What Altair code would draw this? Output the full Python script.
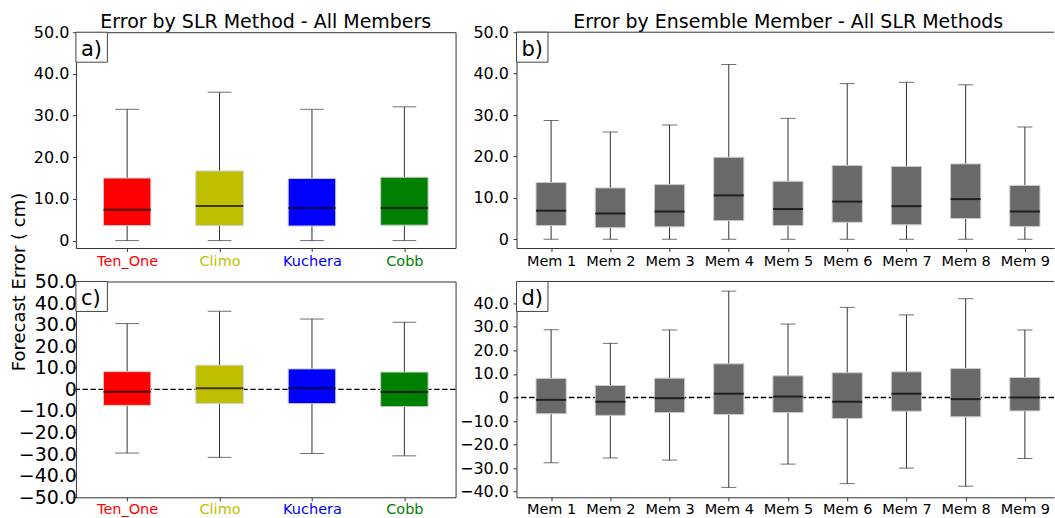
import json
import altair as alt
import pandas as pd

FONT = "DejaVu Sans"

# ---------------- data ----------------
methods = ["Ten_One", "Climo", "Kuchera", "Cobb"]
method_colors = ["#ff0000", "#bfbf00", "#0000ff", "#008000"]
members = ["Mem 1", "Mem 2", "Mem 3", "Mem 4", "Mem 5", "Mem 6", "Mem 7", "Mem 8", "Mem 9"]
member_color = "#696969"

# a) absolute error by SLR method
a_lo = [0.0, 0.0, 0.0, 0.0]
a_q1 = [3.6, 3.6, 3.5, 3.7]
a_med = [7.4, 8.3, 7.8, 7.8]
a_q3 = [15.0, 16.7, 14.9, 15.2]
a_hi = [31.5, 35.6, 31.5, 32.1]

# b) absolute error by ensemble member
b_lo = [0.0, 0.0, 0.0, 0.0, 0.0, 0.0, 0.0, 0.0, 0.0]
b_q1 = [3.3, 2.8, 3.0, 4.5, 3.3, 4.1, 3.5, 5.0, 3.1]
b_med = [6.9, 6.2, 6.7, 10.6, 7.3, 9.1, 8.0, 9.7, 6.7]
b_q3 = [13.7, 12.4, 13.2, 19.8, 14.0, 17.8, 17.6, 18.2, 13.0]
b_hi = [28.7, 25.9, 27.6, 42.2, 29.2, 37.6, 37.9, 37.3, 27.1]

# c) signed error by SLR method
c_lo = [-29.5, -31.5, -29.7, -30.8]
c_q1 = [-7.4, -6.5, -6.6, -8.0]
c_med = [-1.1, 0.5, 0.5, -1.2]
c_q3 = [8.2, 11.2, 9.5, 8.0]
c_hi = [30.5, 36.2, 32.6, 31.1]

# d) signed error by ensemble member
d_lo = [-27.7, -25.7, -26.6, -38.2, -28.3, -36.6, -30.0, -37.7, -25.9]
d_q1 = [-6.9, -7.6, -6.4, -7.2, -6.4, -8.9, -5.8, -8.2, -5.7]
d_med = [-1.0, -1.8, -0.3, 1.6, 0.4, -1.8, 1.6, -0.7, 0.0]
d_q3 = [8.1, 5.1, 8.2, 14.3, 9.2, 10.5, 10.9, 12.3, 8.5]
d_hi = [28.8, 23.0, 28.7, 45.2, 31.2, 38.3, 35.1, 42.0, 28.7]

title_a = "Error by SLR Method - All Members"
title_b = "Error by Ensemble Member - All SLR Methods"
panel_labels = ["a)", "b)", "c)", "d)"]
y_title = "Forecast Error ( cm)"

y_ticks_ab = [0, 10, 20, 30, 40, 50]
y_ticks_c = [-50, -40, -30, -20, -10, 0, 10, 20, 30, 40, 50]
y_ticks_d = [-40, -30, -20, -10, 0, 10, 20, 30, 40]


def make_df(cats, lo, q1, med, q3, hi, colors):
    return pd.DataFrame({
        "cat": cats,
        "pos": [i + 1 for i in range(len(cats))],
        "lo": lo, "q1": q1, "med": med, "q3": q3, "hi": hi,
        "color": colors,
    })


LINE = "#333333"


def panel(df, cats, width, height, xmax, ydom, yvals, box_w, ylab_size,
          ylab_pad, label, title=None, title_dx=0, zero=False, ytitle=None,
          colored=False, framed=True, xlab_pad=3):
    n = len(cats)
    xs = alt.Scale(domain=[0.5, xmax], nice=False, zero=False)
    ys = alt.Scale(domain=ydom, nice=False, zero=False)
    lab_expr = json.dumps(cats) + "[datum.value - 1]"
    if colored:
        lab_color = {
            "condition": [{"test": f"datum.value == {i + 1}", "value": c}
                          for i, c in enumerate(method_colors[:-1])],
            "value": method_colors[-1],
        }
    else:
        lab_color = "black"
    xaxis = alt.Axis(values=list(range(1, n + 1)), labelExpr=lab_expr,
                     title=None, grid=False, labelFont=FONT,
                     labelFontSize=14.5, labelColor=lab_color, labelAngle=0,
                     tickSize=3.5, tickColor=LINE, labelPadding=xlab_pad,
                     domain=not framed, domainColor=LINE)
    yaxis_kw = dict(values=yvals,
                    labelExpr="datum.value == 0 ? '0' : format(datum.value, '.1f')",
                    grid=False, labelFont=FONT, labelFontSize=ylab_size,
                    labelColor="black", labelPadding=ylab_pad, tickSize=3.5,
                    tickColor=LINE, domain=not framed, domainColor=LINE)
    if ytitle:
        yaxis = alt.Axis(title=ytitle, titleFont=FONT, titleFontSize=18,
                         titleFontWeight="normal", titleColor="black",
                         titleX=-51, titleY=0, titleAngle=270,
                         titleBaseline="alphabetic", titleAlign="center",
                         **yaxis_kw)
    else:
        yaxis = alt.Axis(title=None, **yaxis_kw)

    X = alt.X("pos:Q", scale=xs, axis=xaxis)

    def Y(f):
        return alt.Y(f, scale=ys, axis=yaxis)

    base = alt.Chart(df)
    layers = []
    if zero:
        zdf = pd.DataFrame({"z": [0]})
        layers.append(alt.Chart(zdf).mark_rule(color="black", strokeWidth=1.4,
                                              strokeDash=[5.5, 2.5]).encode(
            y=Y("z:Q")))
    if not framed:
        tdf = pd.DataFrame({"top": [ydom[1]]})
        layers.append(alt.Chart(tdf).mark_rule(color=LINE, strokeWidth=1).encode(
            y=Y("top:Q")))
    layers.append(base.mark_rule(color=LINE, strokeWidth=1).encode(
        x=X, y=Y("lo:Q"), y2="hi:Q"))
    for fld in ["lo", "hi"]:
        layers.append(base.mark_tick(orient="horizontal", size=box_w / 2,
                                     thickness=1, color=LINE).encode(
            x=X, y=Y(f"{fld}:Q")))
    layers.append(base.mark_bar(size=box_w, stroke="#cccccc",
                                strokeWidth=1).encode(
        x=X, y=Y("q1:Q"), y2="q3:Q",
        color=alt.Color("color:N", scale=None)))
    layers.append(base.mark_tick(orient="horizontal", size=box_w,
                                 thickness=2, color="black").encode(
        x=X, y=Y("med:Q")))
    ldf = pd.DataFrame({"lab": [label]})
    layers.append(alt.Chart(ldf).mark_rect(fill="white", stroke="#444444",
                                           strokeWidth=1).encode(
        x=alt.value(0), x2=alt.value(31.5), y=alt.value(0), y2=alt.value(30)))
    layers.append(alt.Chart(ldf).mark_text(align="left", baseline="alphabetic",
                                           font=FONT, fontSize=21,
                                           color="black").encode(
        x=alt.value(5), y=alt.value(23.5), text="lab:N"))

    ch = alt.layer(*layers)
    props = dict(width=width, height=height)
    if title:
        props["title"] = alt.TitleParams(title, font=FONT, fontSize=19,
                                         fontWeight="normal", color="black",
                                         baseline="alphabetic", offset=-23,
                                         anchor="middle", dx=title_dx)
    if not framed:
        props["view"] = alt.ViewBackground(strokeWidth=0)
    return ch.properties(**props)


df_a = make_df(methods, a_lo, a_q1, a_med, a_q3, a_hi, method_colors)
df_b = make_df(members, b_lo, b_q1, b_med, b_q3, b_hi, [member_color] * 9)
df_c = make_df(methods, c_lo, c_q1, c_med, c_q3, c_hi, method_colors)
df_d = make_df(members, d_lo, d_q1, d_med, d_q3, d_hi, [member_color] * 9)

W_L, W_R, H = 380, 538, 216
XMAX_R = 0.5 + W_R / 60.4

pa = panel(df_a, methods, W_L, H, 4.5, [-1.78, 50], y_ticks_ab, 47.5, 16, 3.5,
           panel_labels[0], title=title_a, colored=True)
pb = panel(df_b, members, W_R, H, XMAX_R, [-2.11, 50], y_ticks_ab, 30.2, 16, 4.5,
           panel_labels[1], title=title_b, title_dx=3, framed=False)
pc = panel(df_c, methods, W_L, H, 4.5, [-50, 50], y_ticks_c, 47.5, 19, -4,
           panel_labels[2], zero=True, ytitle=y_title, colored=True, xlab_pad=2)
pd_ = panel(df_d, members, W_R, H, XMAX_R, [-42.4, 49.3], y_ticks_d, 30.2, 16, 4.5,
            panel_labels[3], zero=True, framed=False, xlab_pad=2)

chart = alt.concat(pa, pb, pc, pd_, columns=2,
                   spacing={"row": 33.5, "column": 61}, bounds="flush").properties(
    padding={"left": 10, "top": 12, "right": 0, "bottom": 0},
    background="white",
).configure(font=FONT).configure_view(stroke=LINE, strokeWidth=1)

chart.save("out.html", embed_options={"renderer": "svg", "actions": False})
